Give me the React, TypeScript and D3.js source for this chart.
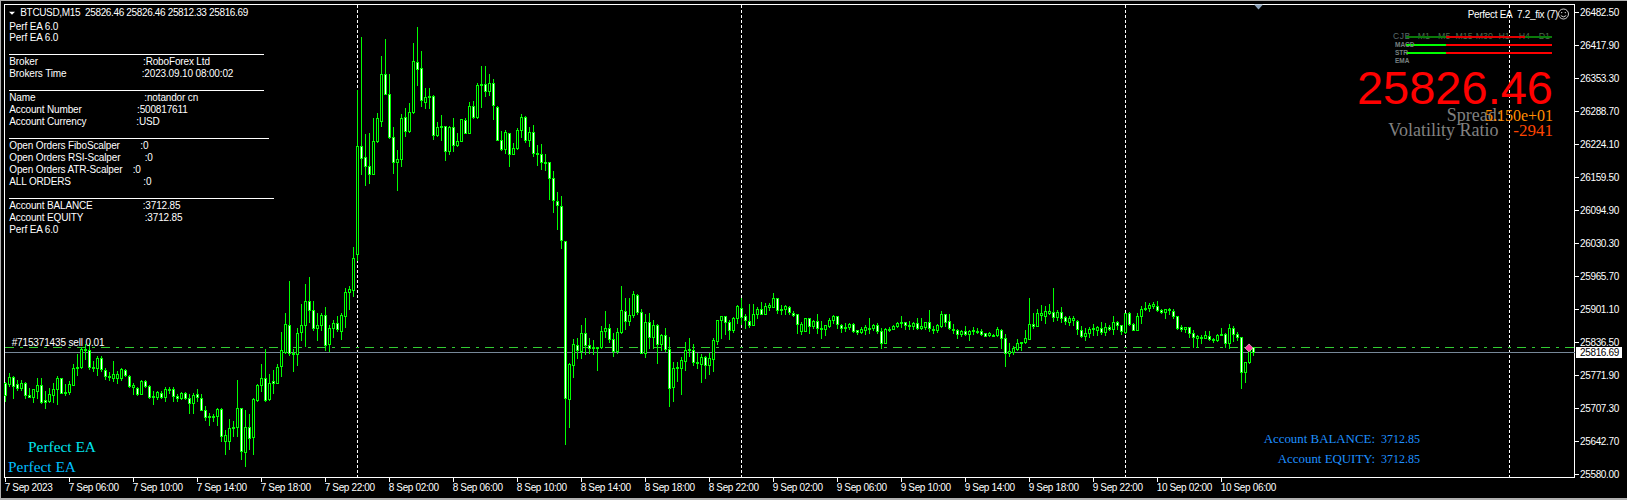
import React from "react";
import * as d3 from "d3";

const highs = [
25758,25777,25771,25763,25763,25759,25748,25746,25766,25766,
25741,25747,25756,25771,25767,25755,25761,25794,25813,25828,
25833,25836,25800,25809,25810,25787,25779,25799,25781,25787,
25785,25772,25756,25750,25763,25762,25753,25741,25741,25741,
25749,25750,25749,25735,25740,25740,25735,25738,25745,25735,
25711,25699,25696,25708,25708,25665,25686,25683,25762,25709,
25704,25696,25728,25755,25794,25823,25774,25782,25794,25857,
25893,25956,25823,25865,25911,25950,25965,25918,25893,25894,
25905,25871,25881,25887,25894,25942,25946,26022,26329,26434,
26243,26245,26274,26285,26397,26430,26361,26258,26213,26282,
26295,26305,26421,26453,26406,26334,26333,26319,26268,26280,
26260,26260,26274,26245,26273,26275,26307,26309,26344,26376,
26376,26360,26352,26299,26249,26251,26246,26227,26255,26282,
26279,26257,26262,26223,26225,26205,26189,26172,26131,26122,
26035,25796,25842,25844,25870,25883,25844,25840,25828,25868,
25897,25872,25854,25865,25946,25924,25924,25937,25930,25902,
25891,25893,25881,25872,25852,25864,25846,25797,25797,25808,
25838,25844,25833,25815,25813,25810,25815,25844,25881,25888,
25888,25880,25885,25909,25924,25891,25911,25911,25906,25915,
25913,25914,25932,25924,25909,25909,25907,25898,25891,25877,
25883,25883,25881,25891,25878,25871,25884,25889,25887,25872,
25874,25875,25875,25861,25867,25870,25883,25872,25875,25865,
25864,25867,25870,25876,25887,25877,25878,25877,25883,25883,
25877,25899,25868,25872,25897,25891,25891,25872,25862,25860,
25868,25860,25867,25865,25863,25855,25857,25853,25867,25863,
25853,25835,25829,25842,25838,25860,25924,25893,25902,25909,
25907,25911,25942,25899,25905,25888,25888,25887,25880,25868,
25865,25867,25873,25868,25877,25875,25870,25887,25878,25871,
25893,25896,25875,25894,25907,25915,25913,25915,25918,25901,
25902,25903,25902,25887,25871,25867,25867,25860,25851,25850,
25858,25858,25844,25853,25864,25854,25872,25868,25857,25847,
25797,25833,25826.46];

const lows = [
25722,25752,25728,25743,25743,25728,25730,25719,25728,25717,
25708,25720,25720,25716,25737,25734,25735,25753,25772,25787,
25803,25784,25780,25772,25780,25764,25763,25760,25756,25763,
25771,25750,25735,25733,25735,25750,25728,25715,25726,25728,
25722,25737,25722,25722,25725,25725,25698,25698,25722,25704,
25685,25675,25682,25675,25644,25618,25628,25654,25654,25608,
25595,25628,25618,25722,25741,25722,25724,25738,25756,25770,
25815,25812,25780,25792,25841,25829,25876,25861,25841,25861,
25821,25819,25847,25858,25842,25866,25901,25926,25997,26165,
26143,26147,26165,26228,26260,26321,26236,26167,26135,26182,
26240,26247,26284,26340,26299,26295,26295,26233,26240,26232,
26193,26204,26210,26220,26230,26245,26245,26274,26274,26296,
26318,26319,26272,26232,26212,26206,26181,26204,26215,26238,
26228,26220,26200,26184,26176,26174,26117,26092,26057,26021,
25637,25671,25769,25805,25805,25813,25816,25813,25782,25826,
25846,25837,25810,25816,25855,25862,25870,25885,25891,25815,
25808,25826,25826,25796,25822,25820,25712,25721,25760,25735,
25782,25810,25792,25787,25758,25766,25774,25780,25833,25844,
25852,25842,25857,25875,25873,25864,25866,25870,25883,25891,
25891,25900,25905,25893,25891,25891,25891,25888,25854,25852,
25859,25854,25865,25855,25845,25850,25867,25874,25864,25856,
25858,25862,25857,25853,25854,25852,25854,25861,25854,25825,
25835,25859,25862,25867,25867,25862,25863,25862,25862,25863,
25863,25859,25855,25856,25867,25868,25862,25855,25845,25848,
25850,25841,25853,25854,25850,25848,25848,25849,25849,25826,
25790,25810,25814,25822,25821,25836,25842,25864,25868,25881,
25875,25891,25879,25880,25876,25872,25870,25870,25852,25846,
25840,25846,25850,25850,25853,25850,25861,25853,25862,25852,
25855,25870,25860,25860,25874,25900,25898,25904,25898,25893,
25884,25892,25884,25863,25858,25857,25846,25827,25827,25835,
25844,25840,25837,25839,25850,25827,25826,25839,25841,25747,
25759,25796,25812.33];

const bodyTops = [
25756,25769,25769,25754,25756,25756,25734,25745,25753,25753,
25723,25735,25746,25766,25766,25740,25755,25787,25789,25824,
25824,25822,25789,25805,25805,25783,25771,25775,25775,25785,
25782,25771,25753,25748,25760,25760,25752,25732,25740,25738,
25746,25746,25746,25732,25738,25738,25728,25734,25735,25728,
25704,25693,25692,25707,25707,25655,25668,25670,25709,25709,
25670,25670,25725,25753,25767,25767,25756,25760,25789,25821,
25872,25871,25815,25855,25871,25918,25918,25900,25871,25890,
25890,25865,25875,25875,25889,25935,25940,26002,26221,26221,
26199,26182,26230,26275,26361,26361,26322,26238,26195,26275,
26277,26287,26387,26385,26373,26316,26318,26318,26258,26260,
26260,26258,26258,26230,26272,26271,26299,26299,26340,26342,
26342,26344,26344,26297,26232,26248,26246,26216,26252,26277,
26277,26248,26248,26207,26205,26189,26189,26158,26113,26103,
26035,25795,25834,25832,25855,25855,25831,25828,25827,25859,
25864,25864,25843,25857,25900,25898,25889,25930,25929,25896,
25877,25877,25871,25871,25851,25851,25824,25787,25788,25801,
25822,25823,25822,25797,25808,25807,25805,25840,25881,25887,
25887,25877,25883,25908,25904,25888,25879,25892,25902,25902,
25908,25909,25924,25924,25902,25907,25906,25894,25891,25873,
25883,25883,25879,25879,25865,25870,25881,25887,25887,25871,
25867,25873,25873,25860,25862,25866,25865,25870,25870,25859,
25863,25863,25869,25875,25877,25877,25871,25875,25875,25868,
25877,25877,25863,25870,25891,25891,25879,25863,25861,25859,
25859,25859,25860,25859,25858,25854,25854,25851,25863,25861,
25844,25820,25825,25836,25838,25844,25873,25872,25893,25893,
25897,25897,25896,25896,25896,25885,25883,25883,25879,25861,
25855,25862,25864,25866,25865,25867,25867,25877,25877,25871,
25893,25893,25873,25887,25902,25904,25909,25911,25908,25900,
25902,25902,25898,25887,25867,25867,25867,25855,25848,25847,
25850,25848,25843,25851,25852,25853,25865,25865,25853,25846,
25797,25823,25826.46];

const bodyBottoms = [
25734,25754,25752,25748,25747,25734,25730,25730,25741,25720,
25720,25722,25734,25746,25738,25739,25740,25753,25787,25789,
25822,25789,25788,25786,25785,25770,25768,25766,25767,25767,
25773,25751,25750,25735,25736,25751,25730,25730,25730,25730,
25730,25745,25732,25727,25727,25727,25717,25717,25730,25704,
25691,25690,25690,25693,25654,25644,25644,25668,25670,25624,
25623,25650,25652,25724,25753,25724,25725,25756,25757,25790,
25818,25816,25814,25814,25857,25871,25900,25864,25864,25871,
25832,25833,25865,25862,25859,25888,25935,25939,26010,26197,
26181,26165,26165,26230,26269,26322,26238,26189,26189,26194,
26249,26249,26286,26370,26310,26306,26316,26241,26241,26257,
26210,26210,26222,26222,26230,26245,26245,26277,26277,26339,
26327,26327,26300,26232,26214,26214,26205,26205,26216,26251,
26232,26232,26206,26204,26189,26188,26158,26115,26105,26036,
25728,25726,25792,25822,25820,25831,25826,25825,25825,25827,
25859,25843,25820,25820,25857,25878,25878,25889,25896,25816,
25816,25847,25847,25833,25833,25823,25747,25749,25786,25786,
25800,25822,25797,25796,25794,25792,25792,25804,25839,25880,
25876,25861,25861,25883,25886,25880,25870,25870,25891,25892,
25892,25905,25905,25900,25900,25902,25896,25890,25873,25859,
25859,25868,25868,25864,25862,25862,25868,25880,25872,25864,
25864,25867,25859,25857,25857,25861,25862,25865,25859,25835,
25835,25862,25863,25868,25875,25870,25868,25868,25864,25864,
25866,25864,25861,25860,25868,25877,25864,25861,25853,25852,
25852,25853,25858,25857,25852,25849,25850,25850,25851,25844,
25816,25816,25818,25823,25835,25837,25842,25868,25868,25890,
25887,25894,25886,25885,25883,25878,25876,25880,25863,25848,
25848,25855,25862,25860,25856,25857,25863,25863,25871,25858,
25857,25873,25861,25861,25887,25902,25904,25908,25899,25896,
25896,25900,25887,25865,25863,25863,25855,25847,25845,25845,
25845,25843,25841,25841,25851,25835,25835,25852,25847,25779,
25779,25797,25816.69];

const bearishBars = [0,2,3,5,6,9,10,14,20,21,24,25,26,30,31,33,35,36,39,42,43,45,46,48,49,50,54,59,61,65,67,71,76,77,80,83,89,90,91,95,96,97,100,103,104,107,110,112,115,117,120,122,123,124,126,130,132,134,136,137,138,139,140,143,145,146,151,152,155,158,159,161,163,165,166,172,175,180,181,184,185,186,189,193,196,197,198,201,203,208,209,212,213,218,219,225,228,231,235,236,238,240,244,245,249,250,257,262,264,265,268,269,274,276,278,279,281,282,288,289,291,292,293,294,296,297,301,305,307,308,309,312];

const priceTicks = [26482.5,26417.9,26353.3,26288.7,26224.1,26159.5,26094.9,26030.3,25965.7,25901.1,25836.5,25771.9,25707.3,25642.7,25580];
const timeLabels = ["7 Sep 2023","7 Sep 06:00","7 Sep 10:00","7 Sep 14:00","7 Sep 18:00","7 Sep 22:00","8 Sep 02:00","8 Sep 06:00","8 Sep 10:00","8 Sep 14:00","8 Sep 18:00","8 Sep 22:00","9 Sep 02:00","9 Sep 06:00","9 Sep 10:00","9 Sep 14:00","9 Sep 18:00","9 Sep 22:00","10 Sep 02:00","10 Sep 06:00"];
const barsPerTimeLabel = 16;
const separatorBars = [88,184,280,376];
const sellPrice = 25826.46;
const lastPrice = 25816.69;

const panelRows: [string, string, number][] = [
  ["Perf EA 6.0","",0],["Perf EA 6.0","",0],
  ["Broker",":RoboForex Ltd",143],["Brokers Time",":2023.09.10 08:00:02",141.7],
  ["Name",":notandor cn",144.3],["Account Number",":500817611",137],["Account Currency",":USD",136.3],
  ["Open Orders FiboScalper",":0",140.3],["Open Orders RSI-Scalper",":0",144.7],["Open Orders ATR-Scalper",":0",132.7],["ALL ORDERS",":0",143.3],
  ["Account BALANCE",":3712.85",142.7],["Account EQUITY",":3712.85",144.7],["Perf EA 6.0","",0],
];
const panelRowY = [26,37.7,61.7,73.7,97.7,109.7,121.7,145.7,157.7,169.7,181.7,205.7,217.7,229.7];
const panelRules: [number, number][] = [[54,264],[90,264],[138,269],[198,274]];
const tfLabels = ["M1","M5","M15","M30","H1","H4","D1"];
const tfLabelX = [1423.8,1444.2,1464,1484.3,1504,1524.3,1544.3];

const W = 1627, H = 500, LEFT = 4.5, RIGHT = 1574.5, TOP = 4.5, BOTTOM = 477.5;
const SANS = "'Liberation Sans', Arial, sans-serif";
const SERIF = "'Liberation Serif', 'Times New Roman', serif";
const GREEN = "#00FF00";

export default function App() {
  const y = d3.scaleLinear().domain([25580, 26482.5]).range([474, 12.3]);
  const x = d3.scaleLinear().domain([0, highs.length - 1]).range([5.5, 5.5 + 4 * (highs.length - 1)]);
  const snap = (v: number) => Math.round(v - 0.5) + 0.5;
  const bear = new Set(bearishBars);
  const label = { fontFamily: SANS, fontSize: 10, letterSpacing: -0.35, fill: "#fff" } as const;
  const panel = { ...label, letterSpacing: -0.15 } as const;

  return (
    <svg width={W} height={H} viewBox={`0 0 ${W} ${H}`} style={{ position: "absolute", left: 0, top: 0, display: "block", background: "#000" }}>
      <g shapeRendering="crispEdges" fill="#b0b0b0">
        <rect x={0} y={0} width={W} height={1} />
        <rect x={0} y={0} width={1} height={H} />
        <rect x={0} y={498} width={W} height={2} />
      </g>
      {/* frame */}
      <g shapeRendering="crispEdges" stroke="#fff" fill="none">
        <path d={`M${LEFT},${TOP}H${RIGHT}V${BOTTOM}H${LEFT}Z`} />
        {priceTicks.map((p) => <line key={p} x1={RIGHT} x2={RIGHT + 4} y1={snap(y(p))} y2={snap(y(p))} />)}
        {timeLabels.map((t, i) => <line key={t} x1={x(i * barsPerTimeLabel)} x2={x(i * barsPerTimeLabel)} y1={BOTTOM} y2={BOTTOM + 4} />)}
      </g>
      {/* separators */}
      <g shapeRendering="crispEdges" stroke="#fff" strokeDasharray="3,2">
        {separatorBars.map((b) => <line key={b} x1={x(b)} x2={x(b)} y1={TOP} y2={BOTTOM} />)}
      </g>
      {/* order and price lines */}
      <g shapeRendering="crispEdges">
        <line x1={LEFT} x2={RIGHT} y1={snap(y(sellPrice))} y2={snap(y(sellPrice))} stroke="#32CD32" strokeDasharray="9,6,3,6" />
        <line x1={LEFT} x2={RIGHT} y1={snap(y(lastPrice))} y2={snap(y(lastPrice))} stroke="#778899" />
      </g>
      {/* candles */}
      <g shapeRendering="crispEdges">
        {highs.map((h, i) => {
          const t = snap(y(bodyTops[i]));
          const b = Math.max(snap(y(bodyBottoms[i])), t + 1);
          return (
            <g key={i}>
              <line x1={x(i)} x2={x(i)} y1={Math.floor(y(h))} y2={Math.ceil(y(lows[i]))} stroke={GREEN} />
              <rect x={x(i) - 1} y={t} width={2} height={b - t} fill={bear.has(i) ? "#fff" : "#000"} stroke={GREEN} />
            </g>
          );
        })}
      </g>
      <path d={`M${x(311) - 0.5},${y(sellPrice) - 4}l4,4l-4,4l-4,-4Z`} fill="#FF3FA0" stroke="#ffd0e8" strokeWidth={0.6} />
      <path d="M1254,4.5h9l-4.5,5Z" fill="#8aa0b8" />

      {/* legends left */}
      <path d="M9,11.7h6l-3,3Z" fill="#fff" />
      <text x={20.3} y={16} {...label} xmlSpace="preserve">BTCUSD,M15  25826.46 25826.46 25812.33 25816.69</text>
      {panelRows.map(([a, b, vx], i) => (
        <g key={i}>
          <text x={9.3} y={panelRowY[i] + 3.5} {...panel}>{a}</text>
          {b && <text x={vx} y={panelRowY[i] + 3.5} {...panel}>{b}</text>}
        </g>
      ))}
      <g shapeRendering="crispEdges" stroke="#fff">
        {panelRules.map(([ry, rx]) => <line key={ry} x1={9} x2={rx} y1={ry + 0.5} y2={ry + 0.5} />)}
      </g>
      <text x={11.7} y={345.5} {...panel}>#715371435 sell 0.01</text>

      {/* axis labels */}
      {priceTicks.map((p) => (
        <text key={p} x={1580} y={y(p) + 3.5} {...label}>{p.toFixed(2)}</text>
      ))}
      <rect x={1576} y={347} width={46} height={11} fill="#fff" shapeRendering="crispEdges" />
      <text x={1580} y={356} {...label} fill="#000">{lastPrice.toFixed(2)}</text>
      {timeLabels.map((t, i) => (
        <text key={t} x={x(i * barsPerTimeLabel) - 0.8} y={491} {...label}>{t}</text>
      ))}

      {/* top right panel */}
      <text x={1467.7} y={17.5} {...label} letterSpacing={-0.3} xmlSpace="preserve">Perfect EA  7.2_fix (7)</text>
      <g fill="none" stroke="#fff" strokeWidth={0.8}>
        <circle cx={1563.5} cy={14} r={5} />
        <path d="M1560.8,15.6q2.7,2.6,5.4,0" />
      </g>
      <circle cx={1561.7} cy={12.6} r={0.6} fill="#fff" /><circle cx={1565.3} cy={12.6} r={0.6} fill="#fff" />
      <text x={1393} y={38.5} fontFamily={SANS} fontSize={8.5} fill="#5a6a6a" letterSpacing={0.6}>CJB</text>
      {tfLabels.map((t, i) => <text key={t} x={tfLabelX[i]} y={38.5} fontFamily={SANS} fontSize={8.8} fill="#4a6a4a" textAnchor="middle">{t}</text>)}
      <g shapeRendering="crispEdges">
        <rect x={1406} y={36} width={40} height={2} fill="#0a7a0a" /><rect x={1446} y={36} width={79} height={2} fill="#E00000" /><rect x={1525} y={36} width={27} height={2} fill="#0a7a0a" />
        <rect x={1406} y={44} width={40} height={2} fill="#00FF00" /><rect x={1446} y={44} width={106} height={2} fill="#FF0000" />
        <rect x={1406} y={52} width={40} height={2} fill="#00FF00" /><rect x={1446} y={52} width={106} height={2} fill="#FF0000" />
      </g>
      {["MACD","STR","EMA"].map((t, i) => <text key={t} x={1395} y={47 + i * 8} fontFamily={SANS} fontSize={6.5} fontWeight={700} fill="#778080">{t}</text>)}
      <text x={1553} y={104} textAnchor="end" fontFamily={SANS} fontSize={47} fill="#FF0000">25826.46</text>
      <text x={1446.7} y={120.7} fontFamily={SERIF} fontSize={18} fill="#808080">Spread:</text>
      <text x={1553} y={120.7} textAnchor="end" fontFamily={SERIF} fontSize={16} fill="#FF8C00">5.150e+01</text>
      <text x={1388.3} y={135.7} fontFamily={SERIF} fontSize={18} fill="#808080">Volatility Ratio</text>
      <text x={1553} y={135.7} textAnchor="end" fontFamily={SERIF} fontSize={17} fill="#FF4500">-2941</text>

      {/* bottom texts */}
      <text x={28} y={451.7} fontFamily={SERIF} fontSize={15.4} fill="#00E5EE">Perfect EA</text>
      <text x={8} y={471.7} fontFamily={SERIF} fontSize={15.4} fill="#00BFFF">Perfect EA</text>
      <text x={1375} y={442.7} textAnchor="end" fontFamily={SERIF} fontSize={12.9} fill="#1E90FF">Account BALANCE:</text>
      <text x={1420} y={442.7} textAnchor="end" fontFamily={SERIF} fontSize={12} fill="#1E90FF">3712.85</text>
      <text x={1375} y={462.7} textAnchor="end" fontFamily={SERIF} fontSize={12.9} fill="#1E90FF">Account EQUITY:</text>
      <text x={1420} y={462.7} textAnchor="end" fontFamily={SERIF} fontSize={12} fill="#1E90FF">3712.85</text>
    </svg>
  );
}
